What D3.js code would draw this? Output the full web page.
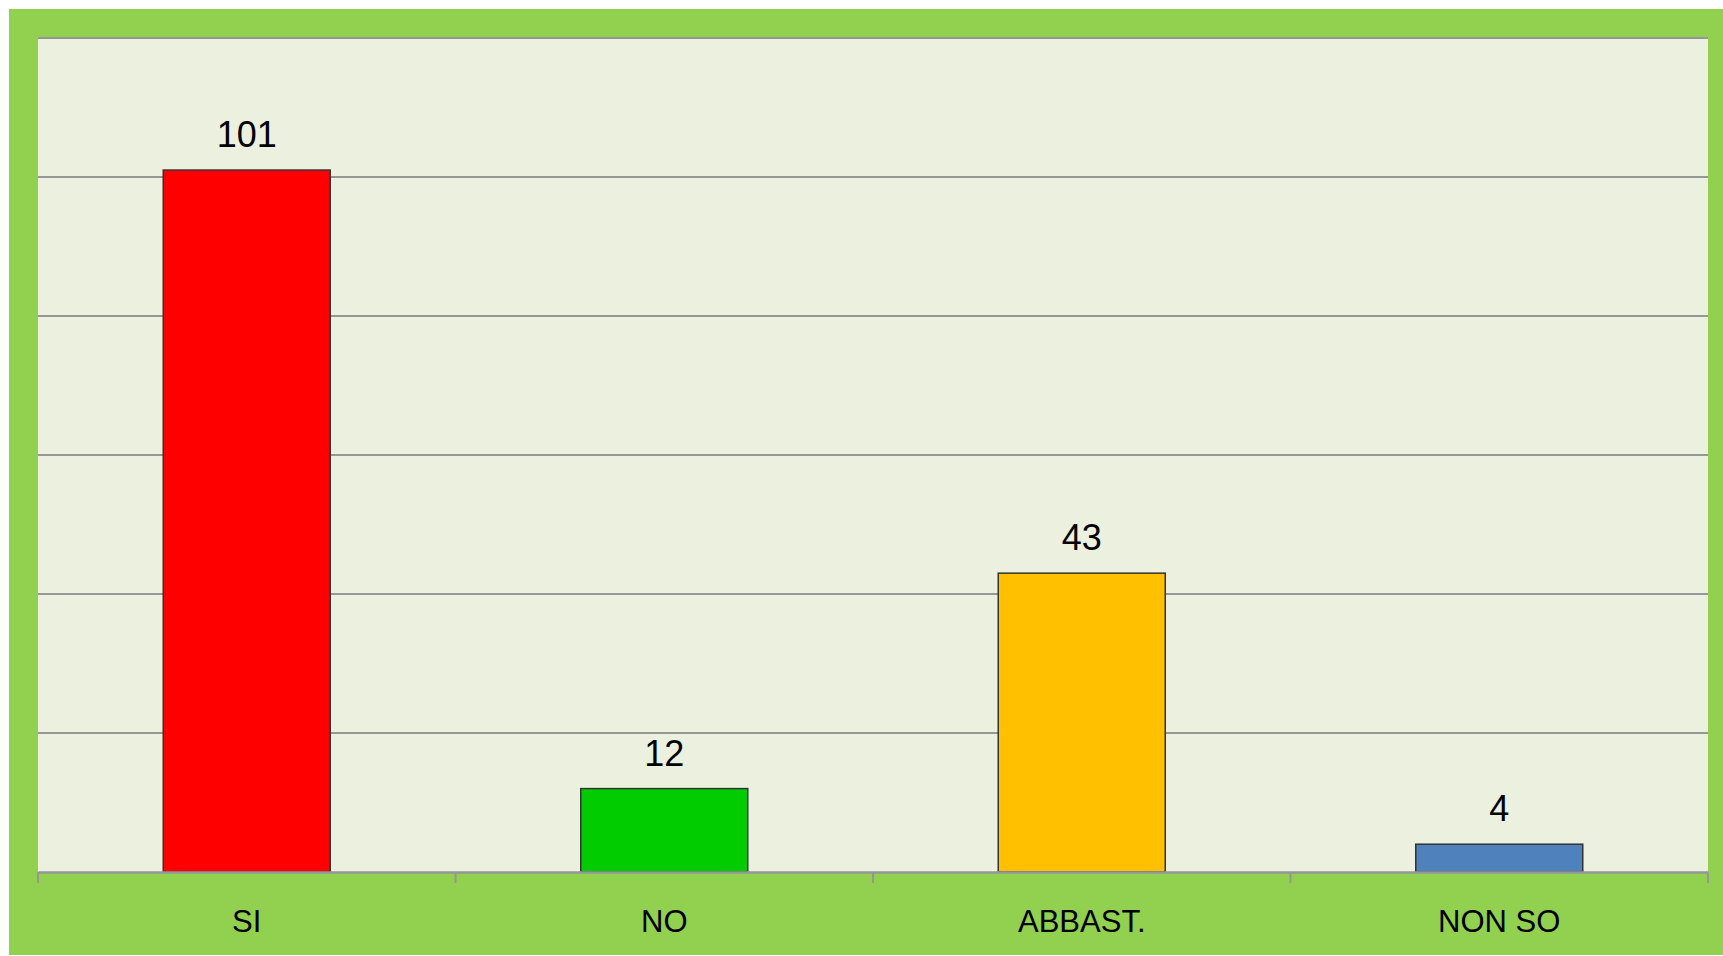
<!DOCTYPE html>
<html>
<head>
<meta charset="utf-8">
<script src="https://cdn.jsdelivr.net/npm/d3@7"></script>
<style>
  html, body { margin: 0; padding: 0; background: #ffffff; }
  svg { display: block; }
</style>
</head>
<body>
<svg id="chart" width="1723" height="956"></svg>
<script>
const categories = ["SI", "NO", "ABBAST.", "NON SO"];
const values = [101, 12, 43, 4];
const barColors = ["#FF0000", "#00CC00", "#FFC000", "#4F81BD"];
const yTicks = [0, 20, 40, 60, 80, 100, 120];

const svg = d3.select("#chart");
const W = 1723, H = 956;

// outer green chart area
svg.append("rect").attr("x", 9).attr("y", 9).attr("width", W - 9).attr("height", H - 9 - 1)
  .attr("fill", "#92D050");

const plot = { left: 38, top: 38, right: 1708, bottom: 872 };

svg.append("rect")
  .attr("x", plot.left).attr("y", plot.top)
  .attr("width", plot.right - plot.left).attr("height", plot.bottom - plot.top)
  .attr("fill", "#EBF1DE");

const x = d3.scaleBand().domain(categories).range([plot.left, plot.right]).padding(0);
const y = d3.scaleLinear().domain([0, 120]).range([plot.bottom, plot.top]);

// gridlines
svg.append("g").selectAll("line").data(yTicks.filter(d => d > 0)).join("line")
  .attr("x1", plot.left).attr("x2", plot.right)
  .attr("y1", d => y(d)).attr("y2", d => y(d))
  .attr("stroke", "#969696").attr("stroke-width", 2);

// bars
const bw = x.bandwidth() * 0.4;
svg.append("g").selectAll("rect").data(values).join("rect")
  .attr("x", (d, i) => x(categories[i]) + x.bandwidth() / 2 - bw / 2)
  .attr("y", d => y(d))
  .attr("width", bw)
  .attr("height", d => y(0) - y(d))
  .attr("fill", (d, i) => barColors[i])
  .attr("stroke", "#333333").attr("stroke-width", 1.5);

// value labels
svg.append("g").selectAll("text").data(values).join("text")
  .attr("x", (d, i) => x(categories[i]) + x.bandwidth() / 2)
  .attr("y", d => y(d) - 23)
  .attr("text-anchor", "middle")
  .attr("font-family", "'Liberation Sans', Arial, sans-serif")
  .attr("font-size", 36)
  .attr("fill", "#000")
  .text(d => d);

// x axis
const xAxis = d3.axisBottom(x).tickSize(0).tickFormat(d => d);
const gx = svg.append("g").attr("transform", `translate(0,${plot.bottom})`).call(xAxis);
gx.select(".domain").attr("stroke", "#969696").attr("stroke-width", 2.5);
gx.selectAll("text")
  .attr("font-family", "'Liberation Sans', Arial, sans-serif")
  .attr("font-size", 31).attr("fill", "#000")
  .attr("dy", 0).attr("y", 60);

// boundary tick marks
const bounds = categories.map(c => x(c)).concat([x.range()[1]]);
svg.append("g").selectAll("line").data(bounds).join("line")
  .attr("x1", d => d).attr("x2", d => d)
  .attr("y1", plot.bottom).attr("y2", plot.bottom + 11)
  .attr("stroke", "#969696").attr("stroke-width", 2);
</script>
</body>
</html>
